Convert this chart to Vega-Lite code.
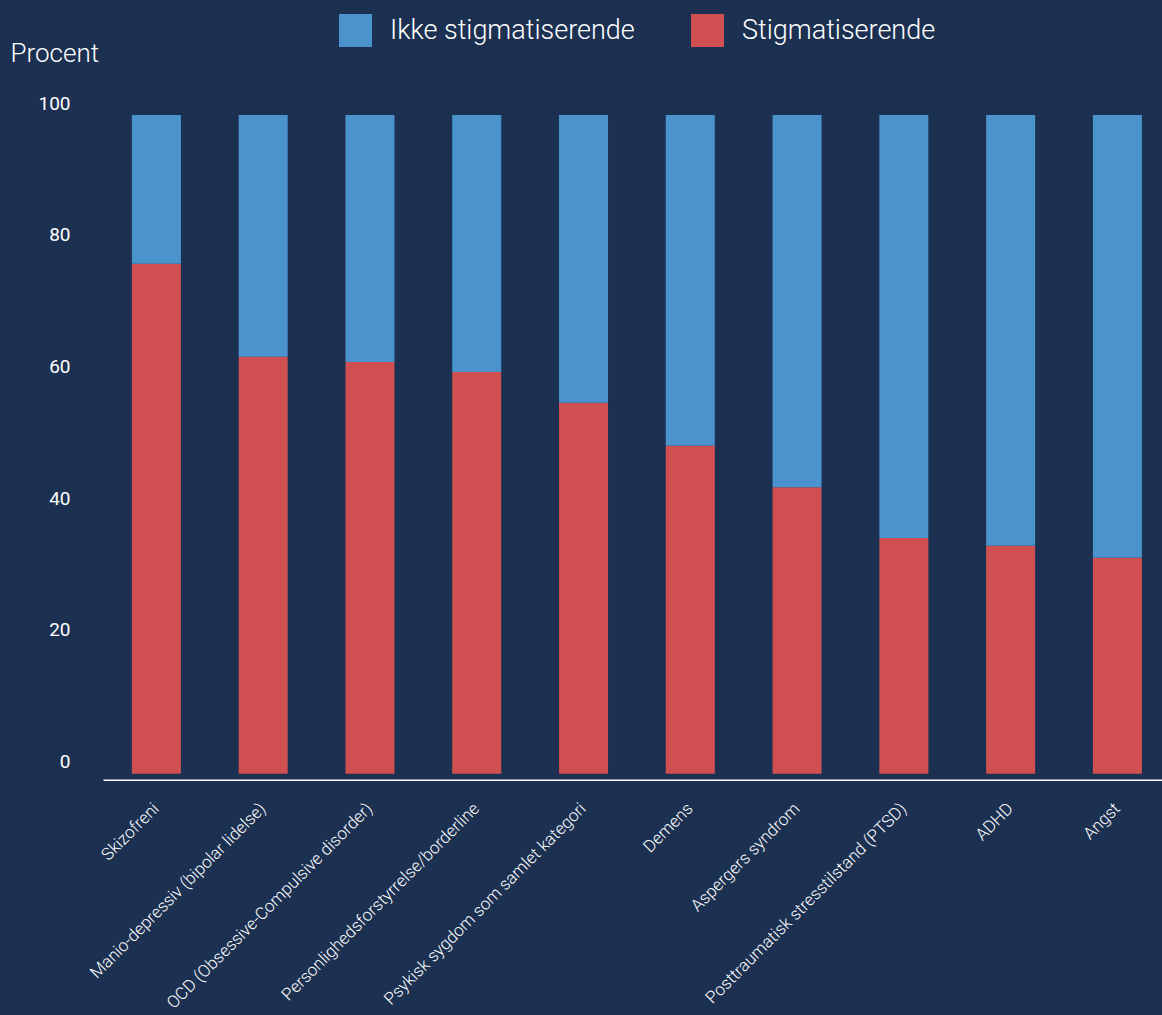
{
  "$schema": "https://vega.github.io/schema/vega-lite/v6.json",
  "autosize": {"type": "none"},
  "width": 1059,
  "height": 658.7,
  "padding": {"left": 103, "top": 115, "right": 0, "bottom": 241.3},
  "background": "#1c3152",
  "config": {
    "view": {"stroke": null},
    "font": "Roboto"
  },
  "data": {
    "values": [
      {"kategori": "Skizofreni", "type": "Stigmatiserende", "procent": 77.4},
      {"kategori": "Skizofreni", "type": "Ikke stigmatiserende", "procent": 22.6},
      {"kategori": "Manio-depressiv (bipolar lidelse)", "type": "Stigmatiserende", "procent": 63.3},
      {"kategori": "Manio-depressiv (bipolar lidelse)", "type": "Ikke stigmatiserende", "procent": 36.7},
      {"kategori": "OCD (Obsessive-Compulsive disorder)", "type": "Stigmatiserende", "procent": 62.5},
      {"kategori": "OCD (Obsessive-Compulsive disorder)", "type": "Ikke stigmatiserende", "procent": 37.5},
      {"kategori": "Personlighedsforstyrrelse/borderline", "type": "Stigmatiserende", "procent": 61.0},
      {"kategori": "Personlighedsforstyrrelse/borderline", "type": "Ikke stigmatiserende", "procent": 39.0},
      {"kategori": "Psykisk sygdom som samlet kategori", "type": "Stigmatiserende", "procent": 56.3},
      {"kategori": "Psykisk sygdom som samlet kategori", "type": "Ikke stigmatiserende", "procent": 43.7},
      {"kategori": "Demens", "type": "Stigmatiserende", "procent": 49.8},
      {"kategori": "Demens", "type": "Ikke stigmatiserende", "procent": 50.2},
      {"kategori": "Aspergers syndrom", "type": "Stigmatiserende", "procent": 43.5},
      {"kategori": "Aspergers syndrom", "type": "Ikke stigmatiserende", "procent": 56.5},
      {"kategori": "Posttraumatisk stresstilstand (PTSD)", "type": "Stigmatiserende", "procent": 35.8},
      {"kategori": "Posttraumatisk stresstilstand (PTSD)", "type": "Ikke stigmatiserende", "procent": 64.2},
      {"kategori": "ADHD", "type": "Stigmatiserende", "procent": 34.6},
      {"kategori": "ADHD", "type": "Ikke stigmatiserende", "procent": 65.4},
      {"kategori": "Angst", "type": "Stigmatiserende", "procent": 32.8},
      {"kategori": "Angst", "type": "Ikke stigmatiserende", "procent": 67.2}
    ]
  },
  "mark": {"type": "bar"},
  "encoding": {
    "x": {
      "field": "kategori",
      "type": "nominal",
      "sort": null,
      "scale": {"paddingInner": 0.541, "paddingOuter": 0.2294, "align": 0.59},
      "axis": {
        "title": null,
        "labelAngle": -45,
        "labelAlign": "right",
        "labelBaseline": "middle",
        "labelFontSize": 17,
        "labelFontWeight": 300,
        "labelColor": "#ffffff",
        "labelPadding": 26,
        "labelLimit": 400,
        "ticks": false,
        "domain": true,
        "domainColor": "#ffffff",
        "domainWidth": 1.5,
        "offset": 6,
        "grid": false
      }
    },
    "y": {
      "field": "procent",
      "type": "quantitative",
      "stack": "zero",
      "scale": {"domain": [0, 100], "nice": false},
      "axis": {
        "title": "Procent",
        "titleAngle": 0,
        "titleAlign": "left",
        "titleBaseline": "alphabetic",
        "titleX": -93,
        "titleY": -54,
        "titleFontSize": 26,
        "titleFontWeight": 300,
        "titleColor": "#ffffff",
        "values": [0, 20, 40, 60, 80, 100],
        "labelFontSize": 19,
        "labelColor": "#ffffff",
        "labelPadding": 33,
        "labelOffset": -12,
        "labelBaseline": "middle",
        "ticks": false,
        "domain": false,
        "grid": false
      }
    },
    "color": {
      "field": "type",
      "type": "nominal",
      "scale": {
        "domain": ["Ikke stigmatiserende", "Stigmatiserende"],
        "range": ["#4a93cd", "#d04f50"]
      },
      "legend": {
        "title": null,
        "orient": "none",
        "legendX": 236,
        "legendY": -101,
        "direction": "horizontal",
        "symbolType": "square",
        "symbolSize": 1089,
        "symbolStrokeWidth": 0,
        "symbolOpacity": 1,
        "labelFontSize": 27,
        "labelFontWeight": 300,
        "labelColor": "#ffffff",
        "labelOffset": 18,
        "columnPadding": 56,
        "labelLimit": 400
      }
    },
    "order": {"field": "type", "sort": "descending"}
  }
}
